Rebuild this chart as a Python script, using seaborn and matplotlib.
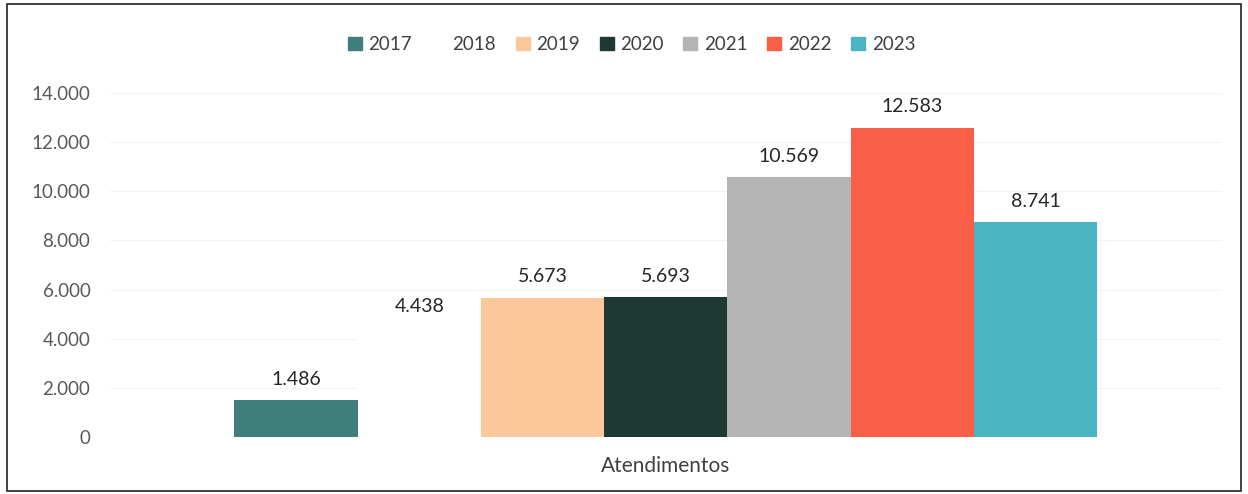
import pandas as pd
import numpy as np
import matplotlib
matplotlib.use("Agg")
import matplotlib.pyplot as plt
import seaborn as sns
from matplotlib.patches import Rectangle

# dados
categoria = ["Atendimentos"]
anos = ["2017", "2018", "2019", "2020", "2021", "2022", "2023"]
valores = [1486, 4438, 5673, 5693, 10569, 12583, 8741]
cores = ["#3e7f7c", "#ffffff", "#fbc79b", "#1e3833", "#b4b4b4", "#f95f47", "#4ab4c0"]
yticks = [0, 2000, 4000, 6000, 8000, 10000, 12000, 14000]

df = pd.DataFrame({"categoria": categoria * len(anos), "ano": anos, "valor": valores})
palette = dict(zip(anos, cores))

def fmt(v):
    return f"{v:,.0f}".replace(",", ".")

sns.set_theme(style="white")
plt.rcParams["font.family"] = ["Lato", "DejaVu Sans"]

fig = plt.figure(figsize=(12.48, 4.94), dpi=100)
ax = fig.add_axes([0.088, 0.1154, 0.891, 0.6963])

sns.barplot(data=df, x="categoria", y="valor", hue="ano", palette=palette,
            width=0.776, saturation=1, linewidth=0, ax=ax, legend=False)

ax.set_ylim(0, 14000)
ax.set_yticks(yticks)
ax.set_yticklabels([fmt(t) for t in yticks], color="#595959", fontsize=13.5)
ax.tick_params(axis="x", labelsize=15, labelcolor="#404040", length=0, pad=14)
ax.tick_params(axis="y", length=0, pad=14)
ax.set_xlabel("")
ax.set_ylabel("")
ax.grid(axis="y", color="#f3f3f3", linewidth=0.8)
ax.set_axisbelow(True)
for s in ax.spines.values():
    s.set_visible(False)

for cont in ax.containers:
    ax.bar_label(cont, labels=[fmt(b.get_height()) for b in cont],
                 padding=9, fontsize=14, color="#262626")

handles = [Rectangle((0, 0), 1, 1, color=c) for c in cores]
fig.legend(handles, anos, loc="center", bbox_to_anchor=(0.506, 0.91), ncol=7,
           frameon=False, fontsize=13.5, handlelength=0.75, handleheight=0.75,
           handletextpad=0.35, columnspacing=1.05, labelcolor="#404040")

# moldura em volta da figura
fig.patches.append(Rectangle((0.006, 0.006), 0.988, 0.986, transform=fig.transFigure,
                             fill=False, edgecolor="#222222", linewidth=1.2))

fig.savefig("out.png", dpi=100)
